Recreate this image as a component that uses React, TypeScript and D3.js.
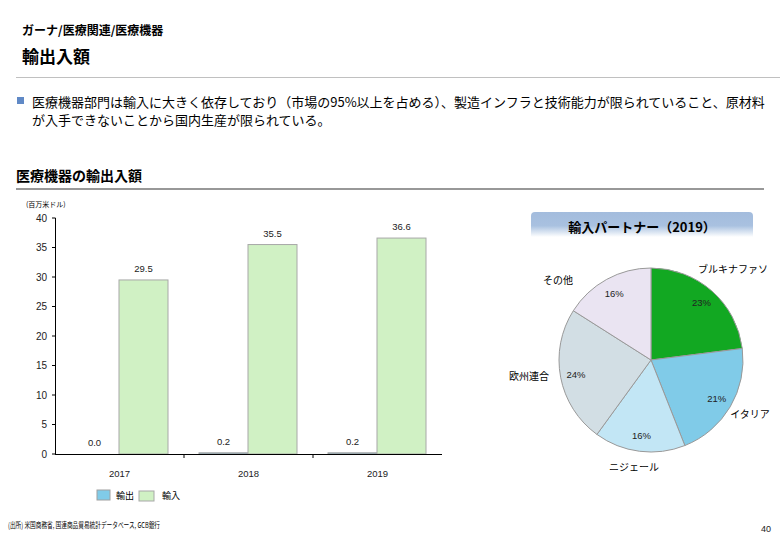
import React from "react";
import * as d3 from "d3";

const years = ["2017", "2018", "2019"];
const exportsVals = [0.0, 0.2, 0.2];
const importsVals = [29.5, 35.5, 36.6];
const yTicks = [0, 5, 10, 15, 20, 25, 30, 35, 40];
const seriesNames = ["輸出", "輸入"];

const partners = ["ブルキナファソ", "イタリア", "ニジェール", "欧州連合", "その他"];
const shares = [23, 21, 16, 24, 16];
const pieColors = ["#12a822", "#80cbe8", "#c2e6f5", "#d2dee4", "#eae4f2"];

const JP = "'Noto Sans CJK JP', 'Noto Sans', sans-serif";
const AR = "'Liberation Sans', Arial, sans-serif";

export default function App() {
  const x0 = d3.scaleBand<string>().domain(years).range([55, 442]).paddingInner(0).paddingOuter(0);
  const y = d3.scaleLinear().domain([0, 40]).range([454, 218]);
  const inner = d3.scaleBand<string>().domain(seriesNames).range([15, 113]);

  const pieGen = d3.pie<number>().sort(null).value((d) => d);
  const arcs = pieGen(shares);
  const R = 92;
  const arcGen = d3.arc<d3.PieArcDatum<number>>().innerRadius(0).outerRadius(R);
  const labelArc = d3.arc<d3.PieArcDatum<number>>().innerRadius(R * 0.83).outerRadius(R * 0.83);
  const cx = 651, cy = 360;
  const outerPos: [number, number][] = [
    [733, 273],
    [750, 418],
    [634, 471],
    [529, 380],
    [558, 284],
  ];

  return (
    <svg width={780} height={540} style={{ position: "absolute", left: 0, top: 0, background: "#fff" }}>
      <defs>
        <linearGradient id="tg" x1="0" y1="0" x2="0" y2="1">
          <stop offset="0" stopColor="#a3bcdd" />
          <stop offset="0.55" stopColor="#a9c1e0" />
          <stop offset="1" stopColor="#ffffff" />
        </linearGradient>
      </defs>
      <text x={22} y={35} fontFamily={JP} fontWeight="bold" fontSize={12} fill="#000">ガーナ/医療関連/医療機器</text>
      <text x={22} y={63} fontFamily={JP} fontWeight="bold" fontSize={17} fill="#000">輸出入額</text>
      <line x1={16} x2={780} y1={77.5} y2={77.5} stroke="#c0c0c0" strokeWidth={1} />

      <rect x={17} y={97} width={7} height={7} fill="#6089c6" />
      <text x={32} y={107} fontFamily={JP} fontSize={13} fill="#000">医療機器部門は輸入に大きく依存しており（市場の95%以上を占める）、製造インフラと技術能力が限られていること、原材料</text>
      <text x={32} y={125} fontFamily={JP} fontSize={13} fill="#000">が入手できないことから国内生産が限られている。</text>

      <text x={16} y={181} fontFamily={JP} fontWeight="bold" fontSize={14} fill="#000">医療機器の輸出入額</text>
      <line x1={16} x2={764} y1={189} y2={189} stroke="#333" strokeWidth={1.2} />

      <text x={26} y={207} fontFamily={JP} fontSize={7} fill="#000">(百万米ドル)</text>

      {/* y axis */}
      <line x1={55.5} x2={55.5} y1={y(40)} y2={y(0)} stroke="#000" strokeWidth={1} />
      {yTicks.map((t) => (
        <g key={t}>
          <line x1={52} x2={55.5} y1={y(t)} y2={y(t)} stroke="#000" />
          <text x={47} y={y(t) + 3.5} textAnchor="end" fontFamily={AR} fontSize={10} fill="#222">{t}</text>
        </g>
      ))}

      {/* bars */}
      {years.map((yr, i) => {
        const bx = x0(yr)!;
        const ex = bx + inner("輸出")!;
        const ix = bx + inner("輸入")!;
        const w = inner.bandwidth();
        return (
          <g key={yr}>
            <rect x={ex} y={y(exportsVals[i])} width={w} height={y(0) - y(exportsVals[i])} fill="#80cbe8" stroke="#a0a0a0" strokeWidth={1} />
            <rect x={ix} y={y(importsVals[i])} width={w} height={y(0) - y(importsVals[i])} fill="#d0f1c4" stroke="#a8a8a8" strokeWidth={1} />
            <text x={ex + w / 2} y={y(exportsVals[i]) - 8} textAnchor="middle" fontFamily={AR} fontSize={9.5} fill="#222">{exportsVals[i].toFixed(1)}</text>
            <text x={ix + w / 2} y={y(importsVals[i]) - 8} textAnchor="middle" fontFamily={AR} fontSize={9.5} fill="#222">{importsVals[i].toFixed(1)}</text>
            <text x={bx + x0.bandwidth() / 2} y={477} textAnchor="middle" fontFamily={AR} fontSize={9.5} fill="#222">{yr}</text>
          </g>
        );
      })}
      {/* x axis */}
      <line x1={55} x2={442} y1={454.5} y2={454.5} stroke="#000" strokeWidth={1.2} />
      {years.slice(1).map((yr) => (
        <line key={yr} x1={x0(yr)!} x2={x0(yr)!} y1={454.5} y2={458} stroke="#000" />
      ))}

      {/* legend */}
      <rect x={97} y={490} width={13} height={10} fill="#80cbe8" stroke="#a0a0a0" />
      <text x={116} y={499} fontFamily={JP} fontSize={9} fill="#000">{seriesNames[0]}</text>
      <rect x={139} y={491} width={15} height={10} fill="#d0f1c4" stroke="#a8a8a8" />
      <text x={162} y={499} fontFamily={JP} fontSize={9} fill="#000">{seriesNames[1]}</text>

      {/* pie title */}
      <path d="M531,237 L531,216 Q531,212 535,212 L749,212 Q753,212 753,216 L753,237 Z" fill="url(#tg)" />
      <text x={642} y={232} textAnchor="middle" fontFamily={JP} fontWeight="bold" fontSize={13} fill="#000">輸入パートナー（2019）</text>

      <g transform={`translate(${cx},${cy})`}>
        {arcs.map((a, i) => (
          <path key={i} d={arcGen(a)!} fill={pieColors[i]} stroke="#999" strokeWidth={1} />
        ))}
        {arcs.map((a, i) => {
          const [lx, ly] = labelArc.centroid(a);
          return (
            <text key={"l" + i} x={lx} y={ly + 3.5} textAnchor="middle" fontFamily={AR} fontSize={9.5} fill="#222">{shares[i]}%</text>
          );
        })}
      </g>
      {partners.map((p, i) => (
        <text key={p} x={outerPos[i][0]} y={outerPos[i][1]} textAnchor="middle" fontFamily={JP} fontSize={10} fill="#000">{p}</text>
      ))}

      <text x={8} y={528} fontFamily={JP} fontSize={8} fill="#000" textLength={152} lengthAdjust="spacingAndGlyphs">(出所) 米国商務省, 国連商品貿易統計データベース, GCB銀行</text>
      <text x={771} y={532} textAnchor="end" fontFamily={AR} fontSize={9} fill="#222">40</text>
    </svg>
  );
}
